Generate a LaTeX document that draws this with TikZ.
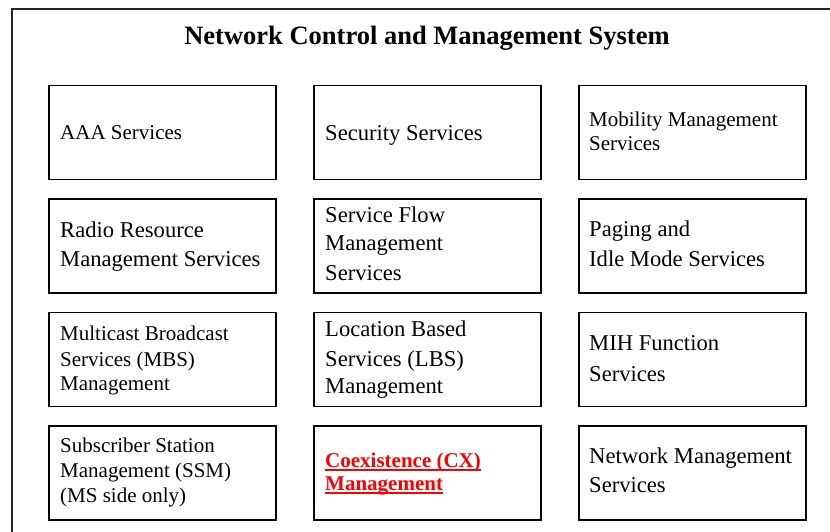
\documentclass[tikz,border=0pt]{standalone}
\usepackage{fontspec}
\setmainfont{Liberation Serif}
\definecolor{cxred}{RGB}{255,0,0}
\newcommand{\boxlines}[1]{\parbox[t]{240pt}{#1}}
\newcommand{\ulx}[1]{\leavevmode\setbox0\hbox{#1}\rlap{\rule[-3.5pt]{\wd0}{1.6pt}}\box0}
\begin{document}
\begin{tikzpicture}[x=1pt,y=-1pt,
  svc/.style={draw, line width=1.5pt, rectangle, minimum width=227pt, minimum height=94pt, inner sep=0pt, anchor=north west},
  lbl/.style={anchor=base west, inner sep=0pt, font=\fontsize{21}{24}\selectfont},
  lblbig/.style={anchor=base west, inner sep=0pt, font=\fontsize{22.6}{24}\selectfont},
  outerbox/.style={draw=black!85, line width=1.6pt}]
\useasboundingbox (0,0) rectangle (830,531);
\clip (0,0) rectangle (830,531);
\draw[outerbox] (12,9) rectangle (860,570);
\node (title) [anchor=base, inner sep=0pt, font=\bfseries\fontsize{26.5}{30}\selectfont] at (427,44) {Network Control and Management System};
% boxes
\node[svc] (b11) at (48,84.5) {};
\node[svc] (b12) at (313,84.5) {};
\node[svc] (b13) at (578,84.5) {};
\node[svc] (b21) at (48,198) {};
\node[svc] (b22) at (313,198) {};
\node[svc] (b23) at (578,198) {};
\node[svc] (b31) at (48,311.5) {};
\node[svc] (b32) at (313,311.5) {};
\node[svc] (b33) at (578,311.5) {};
\node[svc] (b41) at (48,425) {};
\node[svc] (b42) at (313,425) {};
\node[svc] (b43) at (578,425) {};
% labels
\node[lbl] (t11) at (60,139) {\boxlines{AAA Services}};
\node[lblbig] (t12) at (325,140) {\boxlines{Security Services}};
\node[lbl] (t13) at (589,126) {\boxlines{Mobility Management\\Services}};
\node[lblbig] (t21) at (60,237) {\boxlines{Radio Resource\\[5pt]Management Services}};
\node[lblbig] (t22) at (325,222) {\boxlines{Service Flow\\[4pt]Management\\[6pt]Services}};
\node[lblbig] (t23) at (589,236) {\boxlines{Paging and\\[6pt]Idle Mode Services}};
\node[lbl] (t31) at (60,340) {\boxlines{Multicast Broadcast\\[2pt]Services (MBS)\\Management}};
\node[lblbig] (t32) at (325,336) {\boxlines{Location Based\\[6pt]Services (LBS)\\[3pt]Management}};
\node[lblbig] (t33) at (589,350) {\boxlines{MIH Function\\[7pt]Services}};
\node[lbl] (t41) at (60,452) {\boxlines{Subscriber Station\\[1pt]Management (SSM)\\[1pt](MS side only)}};
\node[lbl, text=cxred, font=\bfseries\fontsize{21}{24}\selectfont] (t42) at (325,467) {\boxlines{\ulx{Coexistence (CX)}\\[-1pt]\ulx{Management}}};
\node[lblbig] (t43) at (589,463) {\boxlines{Network Management\\[5pt]Services}};
\end{tikzpicture}
\end{document}
